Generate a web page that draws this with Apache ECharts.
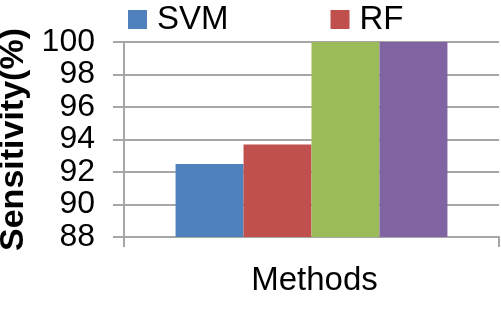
<!DOCTYPE html>
<html><head><meta charset="utf-8">
<script src="https://cdn.jsdelivr.net/npm/echarts@6/dist/echarts.min.js"></script>
<style>html,body{margin:0;padding:0;background:#fff}#c{width:501px;height:309px}</style>
</head><body><div id="c"></div>
<script>
const categories = [""];
const seriesNames = ["SVM", "RF", "Method 3", "Method 4"];
const svm = [92.5];
const rf = [93.7];
const method3 = [100];
const method4 = [100];
const legendItems = ["SVM", "RF"];
const yTicks = { min: 88, max: 100, interval: 2 };

const colors = ["#4f81bd", "#c0504d", "#9bbb59", "#8064a2"];
const values = [svm, rf, method3, method4];
const font = "Liberation Sans, Arial, sans-serif";
const gray = "#a6a6a6";

const chart = echarts.init(document.getElementById('c'), null, {renderer: 'canvas'});
chart.setOption({
  animation: false,
  backgroundColor: '#fff',
  color: colors,
  legend: {
    data: legendItems,
    left: 123, top: -2,
    itemWidth: 19, itemHeight: 19,
    itemGap: 102,
    icon: 'rect',
    textStyle: { fontFamily: font, fontSize: 33, color: '#000', padding: [0,0,0,5] }
  },
  grid: { left: 124, right: 2, top: 42, bottom: 72, containLabel: false, outerBoundsMode: 'none' },
  xAxis: {
    type: 'category',
    data: categories,
    name: 'Methods',
    nameLocation: 'middle',
    nameGap: 27,
    nameTextStyle: { fontFamily: font, fontSize: 33, color: '#000', padding: [0,0,0,6] },
    axisLine: { lineStyle: { color: gray, width: 2 } },
    axisTick: { show: true, length: 10, lineStyle: { color: gray, width: 2 } },
    axisLabel: { show: false }
  },
  yAxis: {
    type: 'value',
    min: yTicks.min, max: yTicks.max, interval: yTicks.interval,
    name: 'Sensitivity(%)',
    nameLocation: 'middle',
    nameGap: 80,
    nameTextStyle: { fontFamily: font, fontSize: 34, fontWeight: 'bold', color: '#000' },
    axisLine: { show: true, lineStyle: { color: gray, width: 2 } },
    axisTick: { show: true, length: 11, lineStyle: { color: gray, width: 2 } },
    axisLabel: { fontFamily: font, fontSize: 32, color: '#000', margin: 29 },
    splitLine: { lineStyle: { color: gray, width: 2 } }
  },
  series: values.map((v, i) => ({
    type: 'bar',
    name: seriesNames[i],
    data: v,
    barGap: '0%',
    barCategoryGap: '27.5%',
    itemStyle: { color: colors[i] }
  }))
});
</script></body></html>
